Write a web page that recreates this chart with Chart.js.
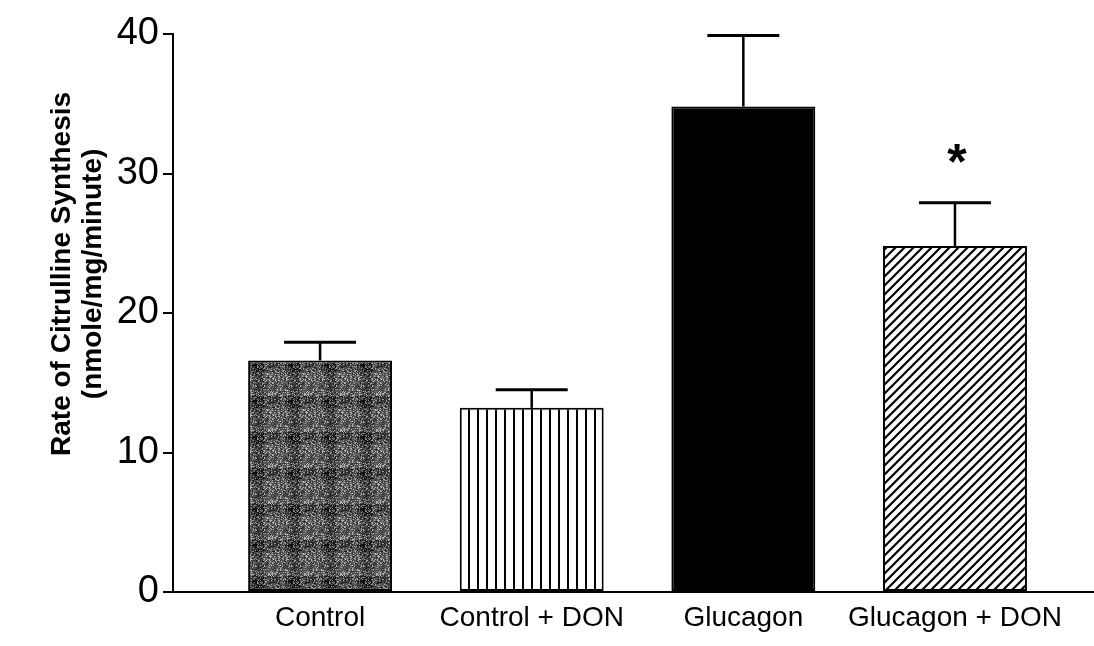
<!DOCTYPE html>
<html lang="en">
<head>
<meta charset="UTF-8">
<title>Citrulline synthesis</title>
<style>
  html, body { margin: 0; padding: 0; background: #fff; }
  #chart { display: block; }
</style>
</head>
<body>
<canvas id="chart" width="1094" height="646"></canvas>
<script src="https://cdn.jsdelivr.net/npm/chart.js"></script>
<script>
// values
const categories = ['Control', 'Control + DON', 'Glucagon', 'Glucagon + DON'];
const rates = [16.6, 13.2, 34.8, 24.8];
const errors = [1.3, 1.3, 5.1, 3.1];
const marks = ['', '', '', '*'];
const yTicks = [0, 10, 20, 30, 40];
const yTitle = ['Rate of Citrulline Synthesis', '(nmole/mg/minute)'];

const FONT = '"Liberation Sans", Arial, sans-serif';

// small deterministic noise for the scanned grey texture
function hash(x, y) {
  let n = Math.imul(x, 374761393) + Math.imul(y, 668265263);
  n = Math.imul(n ^ (n >>> 13), 1274126177);
  return ((n ^ (n >>> 16)) >>> 0) / 4294967295;
}

function greyTexture() {
  const c = document.createElement('canvas');
  c.width = 36; c.height = 36;
  const g = c.getContext('2d');
  const img = g.createImageData(36, 36);
  for (let y = 0; y < 36; y++) {
    for (let x = 0; x < 36; x++) {
      let v = 100;
      if (x < 12) v -= 22;
      if (y < 12) v -= 22;
      const r = hash(x, y);
      if (r > 0.8) v += 80;
      else if (r < 0.3) v -= 45;
      v = Math.max(0, Math.min(255, v));
      const i = (y * 36 + x) * 4;
      img.data[i] = img.data[i + 1] = img.data[i + 2] = v;
      img.data[i + 3] = 255;
    }
  }
  g.putImageData(img, 0, 0);
  return g.createPattern(c, 'repeat');
}

function verticalLines() {
  const c = document.createElement('canvas');
  c.width = 9; c.height = 9;
  const g = c.getContext('2d');
  g.fillStyle = '#fff';
  g.fillRect(0, 0, 9, 9);
  g.fillStyle = '#000';
  g.fillRect(0, 0, 2, 9);
  return g.createPattern(c, 'repeat');
}

function diagonalHatch() {
  const s = 9;
  const c = document.createElement('canvas');
  c.width = s; c.height = s;
  const g = c.getContext('2d');
  g.fillStyle = '#fff';
  g.fillRect(0, 0, s, s);
  g.strokeStyle = '#000';
  g.lineWidth = 2.2;
  g.beginPath();
  g.moveTo(-1, 1); g.lineTo(1, -1);
  g.moveTo(0, s); g.lineTo(s, 0);
  g.moveTo(s - 1, s + 1); g.lineTo(s + 1, s - 1);
  g.stroke();
  return g.createPattern(c, 'repeat');
}

const fills = [greyTexture(), verticalLines(), '#000', diagonalHatch()];

const errorBars = {
  id: 'errorBars',
  afterDatasetsDraw(chart) {
    const ctx = chart.ctx;
    const xs = chart.scales.x, ys = chart.scales.y;
    ctx.save();
    ctx.strokeStyle = '#000';
    ctx.fillStyle = '#000';
    rates.forEach((v, i) => {
      const x = xs.getPixelForValue(i);
      const y0 = ys.getPixelForValue(v);
      const y1 = ys.getPixelForValue(v + errors[i]);
      ctx.lineWidth = 2.5;
      ctx.beginPath();
      ctx.moveTo(x, y0); ctx.lineTo(x, y1);
      ctx.stroke();
      ctx.lineWidth = 3;
      ctx.beginPath();
      ctx.moveTo(x - 36, y1); ctx.lineTo(x + 36, y1);
      ctx.stroke();
      if (marks[i]) {
        ctx.font = 'bold 50px ' + FONT;
        ctx.textAlign = 'center';
        ctx.textBaseline = 'alphabetic';
        ctx.fillText(marks[i], x + 2, y1 - 24);
      }
    });
    ctx.restore();
  }
};

const axisTitle = {
  id: 'axisTitle',
  afterDraw(chart) {
    const ctx = chart.ctx;
    const a = chart.chartArea;
    const yc = a.top + (a.bottom - a.top) * 0.43;
    ctx.save();
    ctx.fillStyle = '#000';
    ctx.font = 'bold 28px ' + FONT;
    ctx.textAlign = 'center';
    ctx.textBaseline = 'middle';
    [62, 93].forEach((x, k) => {
      ctx.save();
      ctx.translate(x, yc);
      ctx.rotate(-Math.PI / 2);
      ctx.fillText(yTitle[k], 0, 0);
      ctx.restore();
    });
    ctx.restore();
  }
};

new Chart(document.getElementById('chart'), {
  type: 'bar',
  data: {
    datasets: [{
      data: rates.map((v, i) => ({ x: i, y: v })),
      backgroundColor: fills,
      borderColor: '#000',
      borderWidth: 2,
      borderSkipped: false,
      categoryPercentage: 1,
      barPercentage: 0.68
    }]
  },
  options: {
    responsive: false,
    animation: false,
    layout: { padding: { top: 34, left: 0, right: 0, bottom: 0 } },
    plugins: { legend: { display: false }, tooltip: { enabled: false } },
    scales: {
      x: {
        type: 'linear',
        offset: false,
        min: -0.695,
        max: 3.657,
        afterBuildTicks: s => { s.ticks = categories.map((c, i) => ({ value: i })); },
        afterFit: s => { s.height = 54; },
        grid: { display: true, drawOnChartArea: false, drawTicks: false, color: '#000' },
        border: { color: '#000', width: 2 },
        ticks: {
          callback: v => categories[v],
          color: '#000',
          font: { family: FONT, size: 28 },
          padding: 9,
          maxRotation: 0,
          autoSkip: false
        }
      },
      y: {
        min: 0,
        max: 40,
        afterBuildTicks: s => { s.ticks = yTicks.map(v => ({ value: v })); },
        afterFit: s => { s.width = 173; },
        grid: { drawOnChartArea: false, tickLength: 10, color: '#000', lineWidth: 2 },
        border: { color: '#000', width: 2 },
        ticks: {
          color: '#000',
          font: { family: FONT, size: 38 },
          padding: 4
        }
      }
    }
  },
  plugins: [errorBars, axisTitle]
});
</script>
</body>
</html>
